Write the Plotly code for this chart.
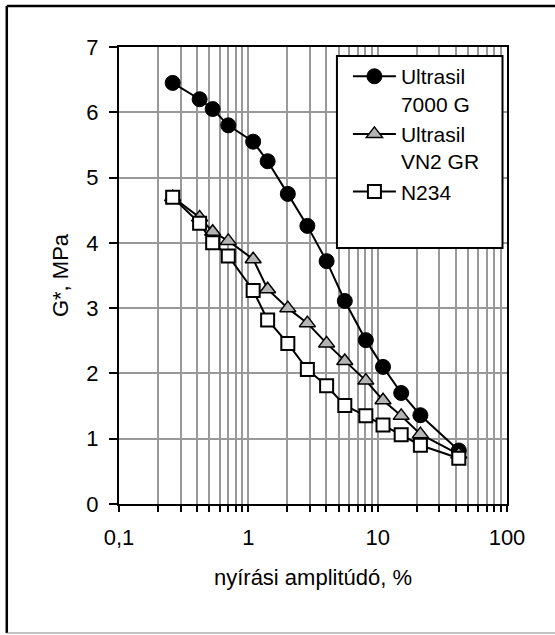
import plotly.graph_objects as go

amplitude = [0.26, 0.42, 0.53, 0.70, 1.09, 1.41, 2.02, 2.86, 4.03, 5.57, 8.10, 11.0, 15.2, 21.4, 42.4]
ultrasil_7000g = [6.45, 6.20, 6.05, 5.80, 5.55, 5.25, 4.75, 4.26, 3.72, 3.11, 2.51, 2.10, 1.70, 1.36, 0.82]
ultrasil_vn2gr = [4.70, 4.39, 4.17, 4.03, 3.75, 3.29, 3.00, 2.77, 2.46, 2.19, 1.89, 1.59, 1.35, 1.07, 0.76]
n234 = [4.70, 4.30, 4.00, 3.80, 3.27, 2.82, 2.46, 2.06, 1.81, 1.51, 1.35, 1.21, 1.06, 0.90, 0.70]

series_names = ["Ultrasil<br>7000 G", "Ultrasil<br>VN2 GR", "N234"]
x_tick_vals = [0.1, 1, 10, 100]
x_tick_text = ["0,1", "1", "10", "100"]
x_minor_vals = [0.2, 0.3, 0.4, 0.5, 0.6, 0.7, 0.8, 0.9,
                2, 3, 4, 5, 6, 7, 8, 9,
                20, 30, 40, 50, 60, 70, 80, 90]
y_tick_vals = [0, 1, 2, 3, 4, 5, 6, 7]
x_title = "nyírási amplitúdó, %"
y_title = "G*, MPa"

FONT = "Liberation Sans, Arial, sans-serif"
GRID = "#999999"

fig = go.Figure()
fig.add_trace(go.Scatter(
    x=amplitude, y=ultrasil_7000g, name=series_names[0], mode="lines+markers",
    line=dict(color="black", width=2),
    marker=dict(symbol="circle", size=15, color="black", line=dict(color="black", width=1)),
))
fig.add_trace(go.Scatter(
    x=amplitude, y=ultrasil_vn2gr, name=series_names[1], mode="lines+markers",
    line=dict(color="black", width=2),
    marker=dict(symbol="triangle-up", size=14, color="#b4b4b4", line=dict(color="black", width=1.5)),
))
fig.add_trace(go.Scatter(
    x=amplitude, y=n234, name=series_names[2], mode="lines+markers",
    line=dict(color="black", width=2),
    marker=dict(symbol="square", size=13, color="white", line=dict(color="black", width=2)),
))

fig.update_layout(
    width=555, height=635,
    margin=dict(l=118.5, r=47.5, t=47, b=131),
    paper_bgcolor="white", plot_bgcolor="white",
    font=dict(family=FONT, size=22, color="black"),
    showlegend=True,
    legend=dict(
        x=0.59, y=0.98, xanchor="left", yanchor="top",
        bgcolor="rgba(0,0,0,0)", borderwidth=0,
        font=dict(family=FONT, size=21, color="black"),
        tracegroupgap=0, itemwidth=43, valign="top",
    ),
    xaxis=dict(
        type="log", range=[-1, 2],
        tickvals=x_tick_vals, ticktext=x_tick_text,
        ticks="outside", ticklen=6, tickwidth=2, tickcolor="black",
        showline=True, linecolor="black", linewidth=2, mirror=True,
        showgrid=True, gridcolor=GRID, gridwidth=2,
        minor=dict(tickvals=x_minor_vals, ticks="outside", ticklen=6, tickwidth=2,
                   tickcolor="black", showgrid=True, gridcolor=GRID, gridwidth=2),
        title=dict(text=x_title, font=dict(size=22), standoff=20),
        ticklabelstandoff=7,
        zeroline=False,
    ),
    yaxis=dict(
        range=[0, 7], tickvals=y_tick_vals,
        ticks="outside", ticklen=8, tickwidth=2, tickcolor="black",
        showline=True, linecolor="black", linewidth=2, mirror=True,
        showgrid=True, gridcolor=GRID, gridwidth=2,
        title=dict(text=y_title, font=dict(size=22), standoff=12),
        ticklabelstandoff=6,
        zeroline=False,
    ),
    shapes=[
        # legend box
        dict(type="rect", xref="paper", yref="paper", x0=0.5617, x1=0.9884, y0=0.5602, y1=0.9803,
             line=dict(color="black", width=2), fillcolor="white", layer="above"),
        # outer chart frame
        dict(type="line", xref="paper", yref="paper", x0=-0.2892, x1=-0.2892, y0=1.0897, y1=-0.2823,
             line=dict(color="black", width=2.5)),
        dict(type="line", xref="paper", yref="paper", x0=-0.2892, x1=1.14, y0=1.0897, y1=1.0897,
             line=dict(color="black", width=2.5)),
        dict(type="line", xref="paper", yref="paper", x0=-0.2892, x1=1.14, y0=-0.2823, y1=-0.2823,
             line=dict(color="#888888", width=1)),
    ],
)

fig.write_html("out.html", config={"displayModeBar": False},
               post_script="document.body.style.margin='0';")
